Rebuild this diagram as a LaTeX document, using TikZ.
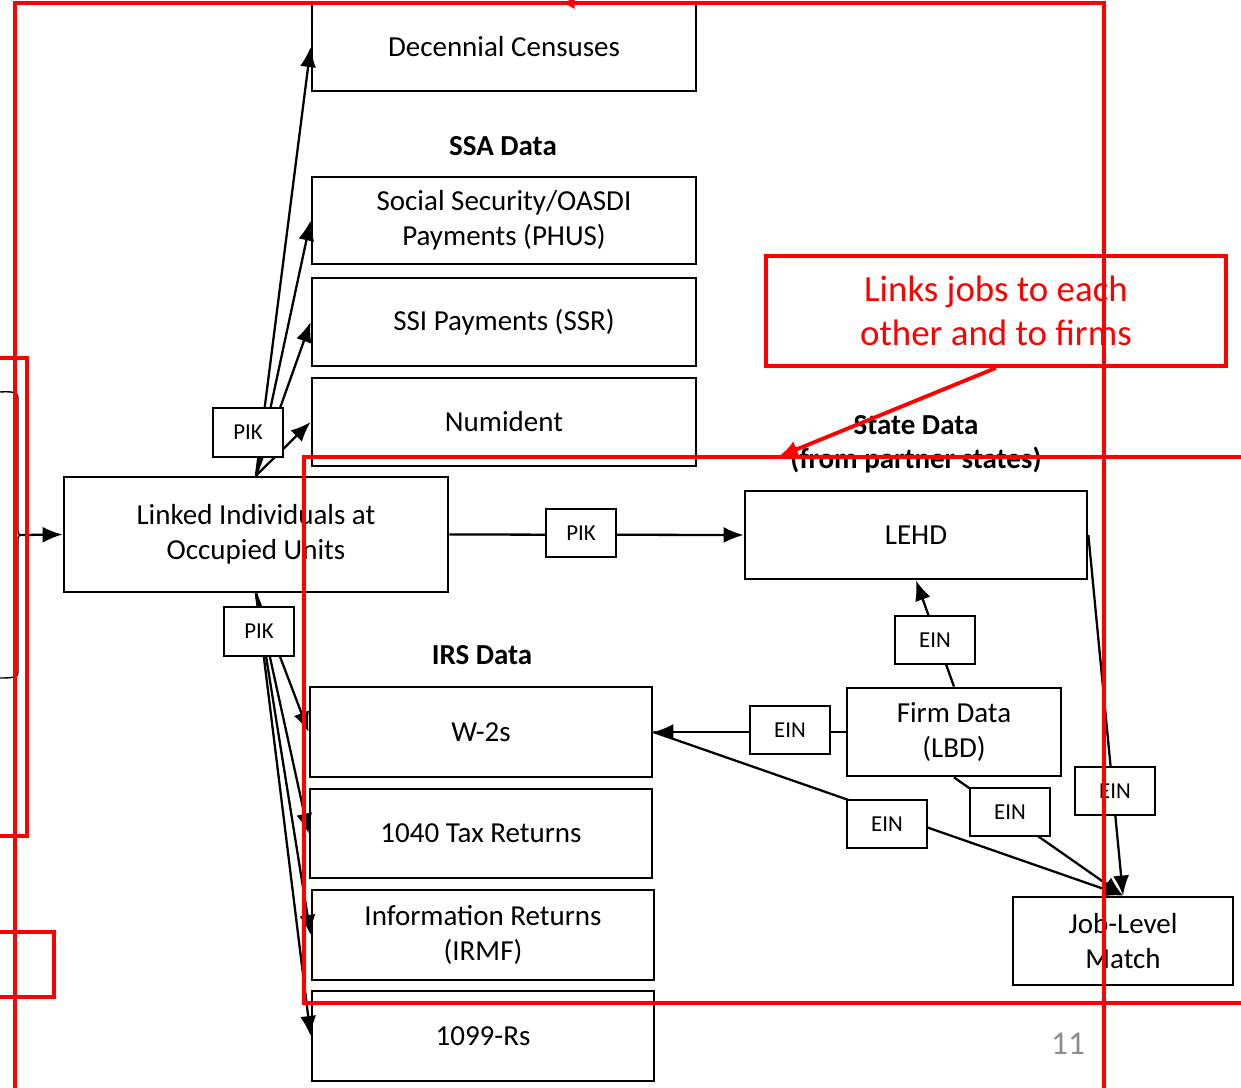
\documentclass[tikz,border=0pt]{standalone}
\usepackage{fontspec}
\setmainfont{Carlito}
\usetikzlibrary{arrows.meta}
\definecolor{pagegray}{RGB}{140,140,140}
\begin{document}
\begin{tikzpicture}[
            x=0.02cm, y=-0.02cm,
            >={Latex[length=4mm,width=3.2mm]},
            data box/.style={draw,line width=1.6pt,align=center,inner sep=0pt,font=\fontsize{16.5}{19.8}\selectfont},
            key box/.style={draw,fill=white,line width=1.3pt,inner sep=0pt,font=\fontsize{13}{15}\selectfont},
            head/.style={font=\fontsize{16.5}{19.4}\selectfont\bfseries,align=center},
            every edge/.style={draw,line width=1.3pt,->},
            note line/.style={draw=red,line width=2.2pt},
        ]
            \useasboundingbox (0,0) rectangle (1241,1088);
            \clip (0,0) rectangle (1241,1088);

            % census and SSA files
            \node[data box,minimum width=7.68cm,minimum height=1.76cm] (census) at (504,47) {Decennial Censuses};
            \node[head] (ssaHead) at (503,146) {SSA Data};
            \node[data box,minimum width=7.68cm,minimum height=1.74cm] (phus) at (504,220.5) {Social Security/OASDI\\Payments (PHUS)};
            \node[data box,minimum width=7.68cm,minimum height=1.76cm] (ssr) at (504,322) {SSI Payments (SSR)};
            \node[data box,minimum width=7.68cm,minimum height=1.76cm] (numident) at (504,422) {Numident};

            \node[data box,minimum width=7.68cm,minimum height=2.3cm] (linked) at (256,534.5) {Linked Individuals at\\Occupied Units};

            % state and firm files
            \node[head] (stateHead) at (916,444) {State Data\\(from partner states)};
            \node[data box,minimum width=6.84cm,minimum height=1.76cm] (lehd) at (916,535) {LEHD};
            \node[data box,minimum width=4.28cm,minimum height=1.76cm] (firm) at (954,732) {Firm Data\\(LBD)};
            \node[data box,minimum width=4.4cm,minimum height=1.76cm] (job) at (1123,941) {Job-Level\\Match};

            % IRS files
            \node[head] (irsHead) at (482,655) {IRS Data};
            \node[data box,minimum width=6.84cm,minimum height=1.8cm] (w2) at (481,732) {W-2s};
            \node[data box,minimum width=6.84cm,minimum height=1.78cm] (tax) at (481,833.5) {1040 Tax Returns};
            \node[data box,minimum width=6.84cm,minimum height=1.8cm] (irmf) at (483,935) {Information Returns\\(IRMF)};
            \node[data box,minimum width=6.84cm,minimum height=1.8cm] (rs) at (483,1036) {1099-Rs};

            % brace on the left
            \draw[line width=0.8pt] (0,392) .. controls (14,391) and (18,393) .. (18,398) -- (18,530)
                .. controls (18,534) .. (22,535) .. controls (18,536) .. (18,540) -- (18,672)
                .. controls (18,677) and (14,678) .. (0,678);
            \coordinate (braceTip) at (22,535);
            \path (braceTip) edge (linked.west);

            \path (linked.north) edge (census.west);
            \path (linked.north) edge (phus.west);
            \path (linked.north) edge (ssr.west);
            \path (linked.north) edge (numident.west);
            \path (linked.east) edge (lehd.west);
            \path (linked.south) edge (w2.west);
            \path (linked.south) edge (tax.west);
            \path (linked.south) edge (irmf.west);
            \path (linked.south) edge (rs.west);

            \path (firm.north) edge (lehd.south);
            \path (firm.west) edge (w2.east);
            \path (w2.east) edge (job.north);
            \path (firm.south) edge (job.north);
            \path (lehd.east) edge (job.north);

            % keys, drawn over the lines
            \node[key box,minimum width=1.4cm,minimum height=0.98cm] (pikUp) at (248,432.5) {PIK};
            \node[key box,minimum width=1.4cm,minimum height=0.96cm] (pikMid) at (581,533) {PIK};
            \node[key box,minimum width=1.4cm,minimum height=0.98cm] (pikDown) at (259,631.5) {PIK};
            \node[key box,minimum width=1.6cm,minimum height=0.96cm] (einLehd) at (935,640) {EIN};
            \node[key box,minimum width=1.6cm,minimum height=0.96cm] (einW2) at (790,730) {EIN};
            \node[key box,minimum width=1.6cm,minimum height=0.96cm] (einJobW2) at (887,824) {EIN};
            \node[key box,minimum width=1.6cm,minimum height=0.96cm] (einJobFirm) at (1010,812) {EIN};
            \node[key box,minimum width=1.6cm,minimum height=0.96cm] (einJobLehd) at (1115,791) {EIN};

            \node[text=pagegray,font=\fontsize{19}{22}\selectfont] (pageNo) at (1068,1044) {11};

            % red marks on top
            \draw[note line] (15,1100) -- (15,3) -- (1104,3) -- (1104,1100);
            \draw[note line,-{Latex[length=2.5mm,width=2.5mm]}] (590,3) -- (562,3);
            \draw[note line] (-5,358) rectangle (27,836);
            \draw[note line] (-5,932) rectangle (54,997);
            \draw[note line] (1250,457) -- (304,457) -- (304,1003) -- (1250,1003);
            \node[note line,draw,minimum width=9.2cm,minimum height=2.2cm,text=red,align=center,
                  font=\fontsize{21}{25}\selectfont] (note) at (996,311) {Links jobs to each\\other and to firms};
            \coordinate (noteTip) at (778,457);
            \draw[note line,-{Latex[length=4mm,width=3.5mm]}] (note.south) -- (noteTip);
        \end{tikzpicture}
\end{document}
